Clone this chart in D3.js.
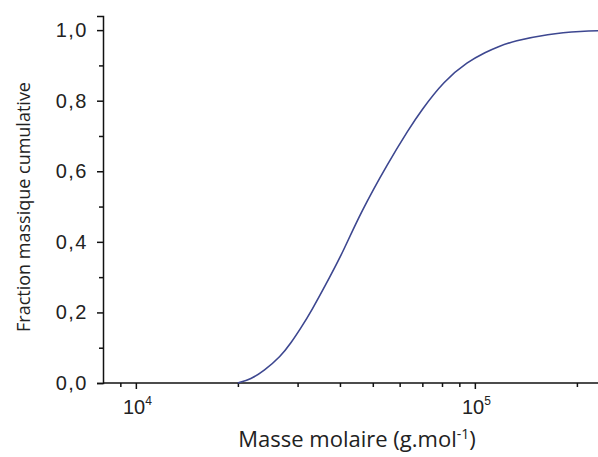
<!DOCTYPE html>
<html><head><meta charset="utf-8">
<script src="https://cdn.jsdelivr.net/npm/d3@7"></script>
<style>
html,body{margin:0;padding:0;background:#fff;}
svg{display:block;}
</style></head>
<body>
<svg id="chart" width="598" height="457"></svg>
<script>
// ---- data ----
const molarMass = [20000, 21840, 23860, 26780, 28660, 30670, 32830, 37610, 40800, 46100, 55400, 63900, 69300, 81000, 95400, 107800, 116900, 130300, 164200, 205500, 250000];
const cumFraction = [0.0, 0.011, 0.034, 0.076, 0.113, 0.156, 0.201, 0.306, 0.371, 0.484, 0.623, 0.720, 0.771, 0.856, 0.911, 0.938, 0.953, 0.969, 0.989, 0.997, 0.999];
const xMajorTicks = [1e4, 1e5];
const xMajorExps = ["4", "5"];
const yMajorTicks = [0, 0.2, 0.4, 0.6, 0.8, 1.0];
const yTickLabels = ["0,0", "0,2", "0,4", "0,6", "0,8", "1,0"];
const yMinorTicks = [0.1, 0.3, 0.5, 0.7, 0.9];
const xTitle = "Masse molaire (g.mol";
const xTitleSup = "-1";
const yTitle = "Fraction massique cumulative";

// ---- layout ----
const svg = d3.select("#chart");
const mLeft = 103, mBottom = 383, mTop = 16;
const decade = 339;
const xDomain = [8000, 250000];
const x = d3.scaleLog().domain(xDomain)
  .range([mLeft, mLeft + decade * Math.log10(xDomain[1] / xDomain[0])]);
const y = d3.scaleLinear().domain([0, 1.04]).range([mBottom, mTop]);

const xMinor = [];
for (let e = 3; e <= 5; e++) for (let m = 2; m <= 9; m++) {
  const v = m * Math.pow(10, e);
  if (v > xDomain[0] && v < xDomain[1]) xMinor.push(v);
}

const tickFont = "'Liberation Sans', Arial, sans-serif";
const titleFont = "'Open Sans', 'Noto Sans', sans-serif";

// Y axis
const gy = svg.append("g").attr("transform", `translate(${mLeft},0)`);
gy.call(d3.axisLeft(y).tickValues(yMajorTicks).tickSize(6).tickPadding(9)
  .tickFormat((d, i) => yTickLabels[i]));
gy.append("g").call(d3.axisLeft(y).tickValues(yMinorTicks).tickSize(4).tickFormat(""))
  .select(".domain").remove();
gy.selectAll(".tick text").attr("font-family", tickFont).attr("font-size", 20)
  .attr("letter-spacing", 1.5).attr("fill", "#222");

// X axis
const gx = svg.append("g").attr("transform", `translate(0,${mBottom})`);
gx.call(d3.axisBottom(x).tickValues(xMajorTicks).tickSize(6).tickPadding(7).tickFormat(""));
gx.append("g").call(d3.axisBottom(x).tickValues(xMinor).tickSize(4).tickFormat(""))
  .select(".domain").remove();
gx.selectAll(".domain").attr("d", `M${mLeft},0H${x.range()[1]}`);
gx.selectAll(".tick").filter(d => xMajorTicks.includes(d)).each(function(d) {
  const i = xMajorTicks.indexOf(d);
  const t = d3.select(this).append("text")
    .attr("y", 31).attr("x", 1)
    .attr("text-anchor", "middle")
    .attr("font-family", tickFont).attr("font-size", 20).attr("fill", "#222");
  t.append("tspan").text("10");
  t.append("tspan").attr("dy", -9).attr("font-size", 12).text(xMajorExps[i]);
});

svg.selectAll(".domain, .tick line").attr("stroke", "#111").attr("stroke-width", 1.5);

// Curve
const line = d3.line().x((d, i) => x(molarMass[i])).y(d => y(d)).curve(d3.curveBasis);
svg.append("path").datum(cumFraction)
  .attr("d", line)
  .attr("fill", "none").attr("stroke", "#3d4790").attr("stroke-width", 1.6);

// Titles
const xt = svg.append("text").attr("x", 357).attr("y", 447).attr("text-anchor", "middle")
  .attr("font-family", titleFont).attr("font-size", 22).attr("fill", "#222");
xt.append("tspan").text(xTitle);
xt.append("tspan").attr("dy", -8).attr("font-size", 14).text(xTitleSup);
xt.append("tspan").attr("dy", 8).text(")");

svg.append("text").attr("transform", "translate(30,207) rotate(-90)")
  .attr("text-anchor", "middle")
  .attr("font-family", titleFont).attr("font-size", 18).attr("fill", "#222")
  .text(yTitle);
</script>
</body></html>
